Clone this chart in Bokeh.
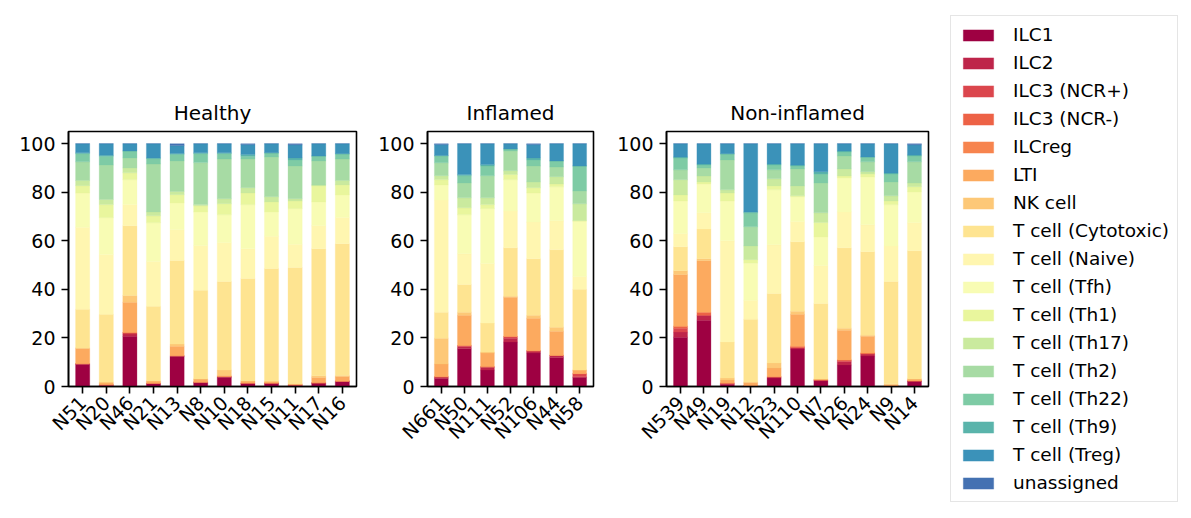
import math
from bokeh.plotting import figure
from bokeh.layouts import row
from bokeh.models import ColumnDataSource, FactorRange, Range1d, Legend, LegendItem
from bokeh.embed import file_html
from bokeh.resources import INLINE

FONT = "DejaVu Sans"

conditions = ["Healthy", "Inflamed", "Non-inflamed"]
healthy_samples = ["N51", "N20", "N46", "N21", "N13", "N8", "N10", "N18", "N15", "N11", "N17", "N16"]
inflamed_samples = ["N661", "N50", "N111", "N52", "N106", "N44", "N58"]
noninflamed_samples = ["N539", "N49", "N19", "N12", "N23", "N110", "N7", "N26", "N24", "N9", "N14"]

cell_types = ["ILC1", "ILC2", "ILC3 (NCR+)", "ILC3 (NCR-)", "ILCreg", "LTI", "NK cell",
              "T cell (Cytotoxic)", "T cell (Naive)", "T cell (Tfh)", "T cell (Th1)",
              "T cell (Th17)", "T cell (Th2)", "T cell (Th22)", "T cell (Th9)",
              "T cell (Treg)", "unassigned"]
colors = ["#9e0142", "#be254a", "#db464d", "#ed6246", "#f7844e", "#fcaa5f", "#fdc877",
          "#fee491", "#fff6b0", "#f8fcb4", "#e9f69d", "#caea9e", "#a7dba4", "#7ecba5",
          "#5ab4ab", "#3b92b9", "#4471b2"]

# percentages per sample: Healthy (12) | Inflamed (7) | Non-inflamed (11)
ilc1 = [9.1, 0.5, 20.7, 1.1, 12.3, 1.5, 3.7, 1.1, 1.1, 0.5, 1.5, 2.2,
        3.3, 15.6, 6.8, 18.3, 13.8, 11.9, 3.7,
        20.3, 27.3, 0.7, 0.3, 3.5, 15.4, 2.3, 8.9, 12.6, 0.3, 2.3]
ilc2 = [0.3, 0.2, 0.9, 0.2, 0.4, 0.3, 0.4, 0.3, 0.3, 0.2, 0.0, 0.0,
        0.7, 0.8, 1.0, 1.6, 0.9, 0.9, 0.3,
        2.1, 2.0, 0.4, 0.0, 0.5, 0.6, 0.4, 1.3, 0.8, 0.0, 0.0]
ilc3_ncr_pos = [0, 0, 0.6, 0, 0, 0, 0, 0, 0, 0, 0, 0,
                0, 0.5, 0.4, 0.7, 0, 0, 1.3,
                1.6, 0, 0.3, 0, 0, 0, 0, 0.7, 0, 0, 0]
ilc3_ncr_neg = [0, 0, 0, 0, 0, 0, 0, 0, 0, 0, 0, 0,
                0, 0, 0, 0, 0, 0, 0,
                0.8, 1.3, 0, 0, 0, 0.6, 0, 0, 0.4, 0, 0]
ilcreg = [0, 0, 0, 0, 0, 0, 0, 0, 0, 0, 0, 0,
          0, 0, 0, 0, 0, 0, 0,
          0, 0, 0, 0, 0, 0, 0, 0, 0, 0, 0]
lti = [6.4, 0.7, 12.5, 1.0, 3.9, 1.3, 0.5, 0.9, 0.5, 0.4, 2.2, 1.9,
       5.3, 12.4, 5.6, 16.1, 13.4, 10.0, 1.5,
       21.3, 21.2, 1.3, 1.2, 3.6, 13.1, 0.4, 12.3, 6.9, 0.4, 0.8]
nk_cell = [0, 0.5, 2.8, 0, 0.9, 0, 2.2, 0, 0.4, 0, 0.7, 0.4,
           10.6, 1.3, 0.4, 0.5, 1.2, 1.6, 0,
           1.6, 0.8, 0.8, 0.4, 2.1, 1.3, 0, 0.8, 0.4, 0.4, 0]
t_cytotoxic = [16.0, 27.8, 28.7, 30.7, 34.4, 36.5, 36.4, 42.2, 46.3, 47.9, 52.3, 54.3,
               10.7, 11.4, 11.9, 19.9, 23.3, 31.9, 33.2,
               9.8, 12.3, 14.8, 25.8, 28.6, 28.6, 31.1, 33.1, 34.4, 42.1, 52.8]
t_naive = [33.8, 24.7, 8.7, 18.5, 12.6, 18.5, 16.0, 12.2, 13.3, 9.6, 9.5, 10.8,
           46.2, 12.7, 24.5, 15.2, 15.1, 11.9, 5.3,
           5.4, 6.6, 41.7, 7.8, 20.1, 8.2, 15.6, 14.8, 11.1, 14.7, 11.5]
t_tfh = [14.1, 15.1, 10.2, 15.9, 11.1, 13.8, 11.5, 18.1, 10.0, 14.6, 9.8, 9.3,
         6.2, 16.0, 22.6, 12.8, 12.0, 14.0, 22.9,
         13.5, 11.9, 16.4, 15.3, 22.6, 10.3, 11.8, 14.0, 19.7, 16.9, 12.7]
t_th1 = [3.0, 5.4, 2.9, 2.9, 3.4, 2.5, 4.5, 4.9, 4.1, 3.2, 6.6, 4.1,
         2.2, 2.9, 1.7, 2.2, 2.1, 1.2, 0,
         2.5, 0.8, 3.3, 1.4, 1.6, 0.4, 5.9, 0.8, 1.2, 1.6, 2.1]
t_th17 = [2.1, 2.1, 2.0, 1.6, 1.3, 0.5, 2.1, 2.1, 2.1, 0.9, 0.4, 1.8,
          1.6, 4.1, 2.8, 1.5, 2.4, 3.0, 7.0,
          6.2, 2.5, 1.3, 5.7, 2.9, 4.1, 4.0, 2.9, 0.9, 2.1, 1.6]
t_th2 = [7.7, 14.2, 4.1, 19.7, 12.6, 17.3, 16.4, 11.9, 16.4, 13.5, 9.9, 8.9,
         5.3, 6.1, 9.1, 8.2, 6.6, 4.0, 5.3,
         4.1, 3.3, 12.3, 7.9, 3.7, 7.0, 12.3, 5.3, 4.1, 5.7, 8.7]
t_th22 = [3.4, 3.6, 2.9, 2.2, 2.7, 3.7, 2.2, 1.1, 1.7, 2.5, 2.0, 2.1,
          2.8, 3.0, 4.0, 0.8, 2.5, 2.5, 10.3,
          4.9, 1.2, 2.5, 5.7, 2.0, 1.2, 3.7, 1.7, 2.0, 3.3, 2.4]
t_th9 = [0.3, 0.4, 0, 0.3, 0.3, 0.3, 0.3, 0.7, 0, 0.8, 0, 0,
         0.2, 0.5, 0.6, 0, 0.8, 0, 0,
         0.4, 0.4, 0, 0.4, 0.4, 0.4, 0.9, 0.4, 0, 0.4, 0.4]
t_treg = [3.8, 4.8, 3.0, 5.9, 3.3, 3.8, 3.8, 4.1, 3.8, 5.4, 5.1, 4.2,
          4.5, 12.7, 8.6, 2.2, 5.5, 7.1, 9.2,
          5.5, 8.4, 4.2, 28.1, 8.4, 8.8, 11.6, 3.0, 5.5, 12.1, 4.2]
unassigned = [0, 0, 0, 0, 0.8, 0, 0, 0.4, 0, 0.5, 0, 0,
              0.4, 0, 0, 0, 0.4, 0, 0,
              0, 0, 0, 0, 0, 0, 0, 0, 0, 0, 0.5]

series = [ilc1, ilc2, ilc3_ncr_pos, ilc3_ncr_neg, ilcreg, lti, nk_cell, t_cytotoxic,
          t_naive, t_tfh, t_th1, t_th17, t_th2, t_th22, t_th9, t_treg, unassigned]

groups = [healthy_samples, inflamed_samples, noninflamed_samples]
frame_widths = [288, 166, 262]
left_borders = [68, 61, 63]
right_borders = [10, 10, 250]
stackers = [f"c{j}" for j in range(len(cell_types))]

TOP, FRAME_H, BOTTOM = 131, 255, 121

panels = []
stacks = None
offset = 0
for k, (cond, samples) in enumerate(zip(conditions, groups)):
    n = len(samples)
    data = {"sample": samples}
    for j, arr in enumerate(series):
        data[stackers[j]] = arr[offset:offset + n]
    offset += n
    src = ColumnDataSource(data)
    p = figure(x_range=FactorRange(factors=samples, range_padding=0.1, range_padding_units="absolute"),
               y_range=Range1d(0, 105),
               frame_width=frame_widths[k], frame_height=FRAME_H,
               min_border_left=left_borders[k], min_border_right=right_borders[k],
               min_border_top=TOP, min_border_bottom=BOTTOM,
               output_backend="svg", toolbar_location=None, title=cond)
    stacks = p.vbar_stack(stackers, x="sample", width=0.6, source=src,
                          fill_color=colors, line_color=colors, line_width=0.3)
    p.title.text_font = FONT
    p.title.text_font_size = "20px"
    p.title.text_font_style = "normal"
    p.title.text_color = "black"
    p.title.align = "center"
    p.title.standoff = 13
    p.xgrid.visible = False
    p.ygrid.visible = False
    p.outline_line_color = "black"
    p.outline_line_width = 1.6
    p.outline_line_alpha = 1
    p.background_fill_color = "white"
    p.border_fill_color = "white"
    p.axis.axis_line_color = "black"
    p.axis.axis_line_width = 1.6
    p.axis.major_tick_line_color = "black"
    p.axis.major_tick_line_width = 1.6
    p.axis.major_tick_out = 7
    p.axis.major_tick_in = 0
    p.axis.minor_tick_line_color = None
    p.axis.major_label_text_font = FONT
    p.axis.major_label_text_font_size = "19px"
    p.axis.major_label_text_color = "black"
    p.axis.major_label_standoff = 6
    p.yaxis.ticker = [0, 20, 40, 60, 80, 100]
    p.xaxis.major_label_orientation = math.pi / 4
    panels.append(p)

# legend on the right side of the last panel, built from its stacked renderers
items = [LegendItem(label=name, renderers=[r]) for name, r in zip(cell_types, stacks)]
legend = Legend(items=items, location=(22, -116), margin=0, padding=8, spacing=7,
                glyph_width=38, glyph_height=14, label_height=21, label_standoff=16,
                label_text_font=FONT, label_text_font_size="18.5px", label_text_color="black",
                border_line_color="#cccccc", border_line_width=1.5,
                background_fill_color="white", background_fill_alpha=1)
panels[-1].add_layout(legend, "right")

layout = row(*panels)
open("out.html", "w").write(file_html(layout, INLINE))
